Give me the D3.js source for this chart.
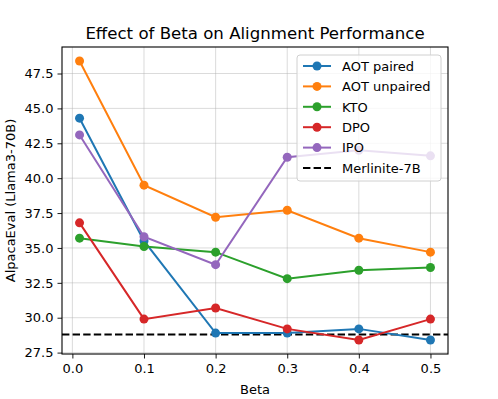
<!DOCTYPE html>
<html>
<head>
<meta charset="utf-8">
<script src="https://cdn.jsdelivr.net/npm/d3@7"></script>
<style>
  body { margin: 0; background: #fff; }
  svg { font-family: "DejaVu Sans", sans-serif; }
</style>
</head>
<body>
<div id="chart"></div>
<script>
const betas = [0.01, 0.1, 0.2, 0.3, 0.4, 0.5];
const aot_paired = [44.3, 35.5, 28.9, 28.9, 29.2, 28.4];
const aot_unpaired = [48.4, 39.5, 37.2, 37.7, 35.7, 34.7];
const kto = [35.7, 35.1, 34.7, 32.8, 33.4, 33.6];
const dpo = [36.8, 29.9, 30.7, 29.2, 28.4, 29.9];
const ipo = [43.1, 35.8, 33.8, 41.5, 42.0, 41.6];
const merlinite = 28.8;
const x_ticks = [0.0, 0.1, 0.2, 0.3, 0.4, 0.5];
const y_ticks = [27.5, 30.0, 32.5, 35.0, 37.5, 40.0, 42.5, 45.0, 47.5];

const series = [
    {name: "AOT paired", values: aot_paired, color: "#1f77b4"},
    {name: "AOT unpaired", values: aot_unpaired, color: "#ff7f0e"},
    {name: "KTO", values: kto, color: "#2ca02c"},
    {name: "DPO", values: dpo, color: "#d62728"},
    {name: "IPO", values: ipo, color: "#9467bd"}
];

const width = 498, height = 399;
const plot_left = 62, plot_right = 448, plot_top = 47, plot_bottom = 354;

const svg = d3.select("#chart").append("svg")
    .attr("width", width)
    .attr("height", height);

// matplotlib style 5% margins
const x = d3.scaleLinear().domain([-0.0145, 0.5245]).range([plot_left, plot_right]);
const y = d3.scaleLinear().domain([27.4, 49.4]).range([plot_bottom, plot_top]);

// grid
const grid = svg.append("g");
grid.selectAll(".gx").data(x_ticks).enter().append("line")
    .attr("x1", d => x(d)).attr("x2", d => x(d))
    .attr("y1", plot_top).attr("y2", plot_bottom)
    .attr("stroke", "#b0b0b0").attr("stroke-opacity", 0.45).attr("stroke-width", 1);
grid.selectAll(".gy").data(y_ticks).enter().append("line")
    .attr("y1", d => y(d)).attr("y2", d => y(d))
    .attr("x1", plot_left).attr("x2", plot_right)
    .attr("stroke", "#b0b0b0").attr("stroke-opacity", 0.45).attr("stroke-width", 1);

// axes
const xAxis = svg.append("g")
    .attr("transform", `translate(0,${plot_bottom})`)
    .call(d3.axisBottom(x).tickValues(x_ticks).tickFormat(d3.format(".1f")).tickSizeOuter(0).tickSize(4.5).tickPadding(5));
const yAxis = svg.append("g")
    .attr("transform", `translate(${plot_left},0)`)
    .call(d3.axisLeft(y).tickValues(y_ticks).tickFormat(d3.format(".1f")).tickSizeOuter(0).tickSize(4.5).tickPadding(4));
[xAxis, yAxis].forEach(a => {
    a.select(".domain").remove();
    a.selectAll("text").attr("font-size", 13).attr("fill", "#000")
        .attr("font-family", "DejaVu Sans");
    a.selectAll("line").attr("stroke", "#000").attr("stroke-width", 0.9);
});

// lines
const line = d3.line()
    .x((d, i) => x(betas[i]))
    .y(d => y(d));

svg.append("line")
    .attr("x1", plot_left).attr("x2", plot_right)
    .attr("y1", y(merlinite)).attr("y2", y(merlinite))
    .attr("stroke", "#000").attr("stroke-width", 2)
    .attr("stroke-dasharray", "7.4,3.2");

series.forEach(s => {
    const g = svg.append("g");
    g.append("path")
        .datum(s.values)
        .attr("d", line)
        .attr("fill", "none")
        .attr("stroke", s.color)
        .attr("stroke-width", 2);
    g.selectAll("circle").data(s.values).enter().append("circle")
        .attr("cx", (d, i) => x(betas[i]))
        .attr("cy", d => y(d))
        .attr("r", 4.5)
        .attr("fill", s.color);
});

// frame
svg.append("rect")
    .attr("x", plot_left).attr("y", plot_top)
    .attr("width", plot_right - plot_left).attr("height", plot_bottom - plot_top)
    .attr("fill", "none").attr("stroke", "#000").attr("stroke-width", 1.1);

// title and labels
svg.append("text")
    .attr("x", (plot_left + plot_right) / 2).attr("y", 39)
    .attr("text-anchor", "middle")
    .attr("font-size", 16.6)
    .text("Effect of Beta on Alignment Performance");
svg.append("text")
    .attr("x", (plot_left + plot_right) / 2).attr("y", 394)
    .attr("text-anchor", "middle")
    .attr("font-size", 13)
    .text("Beta");
svg.append("text")
    .attr("transform", `translate(15,${(plot_top + plot_bottom) / 2}) rotate(-90)`)
    .attr("text-anchor", "middle")
    .attr("font-size", 13)
    .text("AlpacaEval (Llama3-70B)");

// legend
const legend = svg.append("g").attr("transform", "translate(297,55)");
legend.append("rect")
    .attr("width", 144).attr("height", 126)
    .attr("rx", 3)
    .attr("fill", "#fff").attr("fill-opacity", 0.8)
    .attr("stroke", "#d0d0d0").attr("stroke-width", 1);
const entries = series.map(s => ({name: s.name, color: s.color, dashed: false}))
    .concat([{name: "Merlinite-7B", color: "#000", dashed: true}]);
entries.forEach((e, i) => {
    const row = legend.append("g").attr("transform", `translate(0,${11 + i * 20.4})`);
    row.append("line")
        .attr("x1", 6).attr("x2", 34)
        .attr("stroke", e.color).attr("stroke-width", 2)
        .attr("stroke-dasharray", e.dashed ? "7.4,3.2" : null);
    if (!e.dashed) {
        row.append("circle").attr("cx", 20).attr("r", 4.5).attr("fill", e.color);
    }
    row.append("text")
        .attr("x", 45).attr("y", 4.7)
        .attr("font-size", 13)
        .text(e.name);
});
</script>
</body>
</html>
